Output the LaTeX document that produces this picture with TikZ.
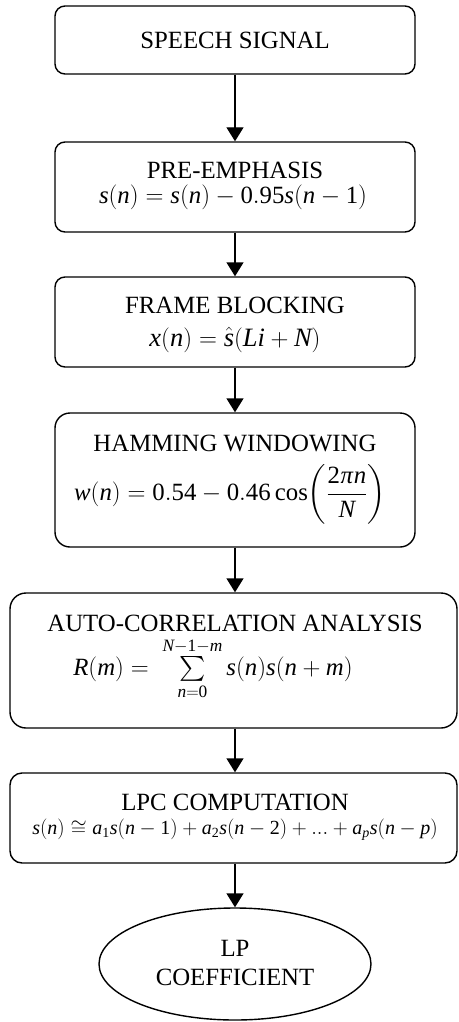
\documentclass[tikz,border=0pt]{standalone}
\usepackage{amsmath}
\usepackage{exscale}
\usepackage{mathspec}
\setmainfont{Liberation Serif}
\setmathsfont(Digits,Latin,Greek){Liberation Serif}
\setmathrm{Liberation Serif}
\usetikzlibrary{arrows.meta,shapes.geometric}
\tikzset{
  stepbox/.style={draw, line width=1.4pt, rounded corners=10pt, inner sep=0pt},
  arr/.style={line width=1.4pt, -{Triangle[length=14pt,width=17pt]}},
  ttl/.style={inner sep=0pt, font=\fontsize{24.8}{28}\selectfont},
  eqn/.style={inner sep=0pt, font=\fontsize{24.8}{28}\selectfont},
  endshape/.style={draw, ellipse, line width=1.4pt, inner sep=0pt}
}
\begin{document}
\begin{tikzpicture}[x=1pt,y=1pt]
\useasboundingbox (0,0) rectangle (458,-1022);
% boxes
\node[stepbox, minimum width=360pt, minimum height=68pt] (b1) at (235,-40) {};
\node[stepbox, minimum width=360pt, minimum height=90pt] (b2) at (235,-187) {};
\node[stepbox, minimum width=360pt, minimum height=90pt] (b3) at (235,-322) {};
\node[stepbox, rounded corners=15pt, minimum width=360pt, minimum height=134pt] (b4) at (235,-480) {};
\node[stepbox, rounded corners=16pt, minimum width=447pt, minimum height=135pt] (b5) at (233.5,-660.5) {};
\node[stepbox, rounded corners=12pt, minimum width=447pt, minimum height=90pt] (b6) at (233.5,-818) {};
\node[endshape, minimum width=272pt, minimum height=112pt] (b7) at (235,-964) {};
% texts
\node[ttl] (t1) at (235,-40) {SPEECH SIGNAL};
\node[ttl] (t2a) at (235,-170) {PRE-EMPHASIS};
\node[eqn] (t2b) at (233,-197) {$s(n)=s(n)-0.95s(n-1)$};
\node[ttl] (t3a) at (235,-305) {FRAME BLOCKING};
\node[eqn, font=\fontsize{26.5}{30}\selectfont] (t3b) at (235,-340) {$x(n)=\hat{s}(Li+N)$};
\node[ttl] (t4a) at (235,-443) {HAMMING WINDOWING};
\node[eqn] (t4b) at (230,-494) {$\displaystyle w(n)=0.54-0.46\cos\!\left(\frac{2\pi n}{N}\right)$};
\node[ttl] (t5a) at (235,-623) {AUTO-CORRELATION ANALYSIS};
\node[eqn] (t5b) at (213,-669) {$R(m)=\;\sum\limits_{n=0}^{N-1-m}s(n)s(n+m)$};
\node[ttl] (t6a) at (235,-802) {LPC COMPUTATION};
\node[eqn, font=\fontsize{20}{24}\selectfont] (t6b) at (235,-830) {$s(n)\cong a_1s(n-1)+a_2s(n-2)+...+a_ps(n-p)$};
\node[ttl] (t7a) at (235,-948) {LP};
\node[ttl] (t7b) at (235,-977) {COEFFICIENT};
% arrows
\draw[arr] (b1.south) -- (b2.north);
\draw[arr] (b2.south) -- (b3.north);
\draw[arr] (b3.south) -- (b4.north);
\draw[arr] (b4.south) -- (b4.south |- b5.north);
\draw[arr] (b4.south |- b5.south) -- (b4.south |- b6.north);
\draw[arr] (b4.south |- b6.south) -- (b7.north);
\end{tikzpicture}
\end{document}
